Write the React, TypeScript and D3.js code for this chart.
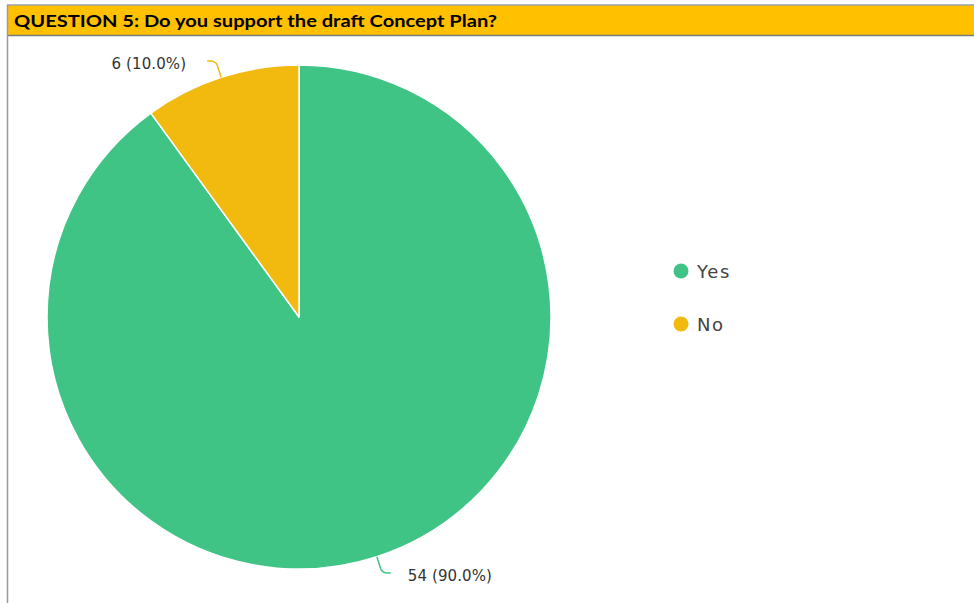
import React from "react";
import * as d3 from "d3";

const title = "QUESTION 5: Do you support the draft Concept Plan?";
const categories = ["Yes", "No"];
const values = [54, 6];
const colors = ["#40C486", "#F2B90F"];

const W = 974;
const H = 603;
const cx = 299;
const cy = 317;
const R = 252;

export default function App() {
  const total = d3.sum(values);
  const pie = d3
    .pie<number>()
    .sort(null)
    .value((d) => d)
    .startAngle(0)
    .endAngle(2 * Math.PI);
  const arcs = pie(values);
  const arcGen = d3.arc<d3.PieArcDatum<number>>().innerRadius(0).outerRadius(R);

  return (
    <div style={{ position: "absolute", left: 0, top: 0 }}>
      <svg width={W} height={H} style={{ display: "block" }}>
        <rect x={0} y={0} width={W} height={H} fill="#fff" />
        <rect x={7} y={5} width={W} height={31} fill="#FFC000" />
        <line x1={7} x2={W} y1={5} y2={5} stroke="#a0a0a0" strokeWidth={1.5} />
        <line x1={7} x2={W} y1={35.5} y2={35.5} stroke="#7a7a7a" strokeWidth={1.5} />
        <line x1={7.5} x2={7.5} y1={5} y2={H} stroke="#9a9a9a" strokeWidth={1.5} />
        <text
          x={14}
          y={27}
          fontFamily="Lato, 'Open Sans', sans-serif"
          fontWeight={700}
          fontSize={17}
          fill="#000"
          textLength={483}
          lengthAdjust="spacingAndGlyphs"
        >
          {title}
        </text>
        <g transform={`translate(${cx},${cy})`}>
          {arcs.map((a, i) => (
            <path key={i} d={arcGen(a) || ""} fill={colors[i]} stroke="#fff" strokeWidth={1.5} strokeLinejoin="round" />
          ))}
          {arcs.map((a, i) => {
            const mid = (a.startAngle + a.endAngle) / 2;
            const sx = Math.sin(mid);
            const sy = -Math.cos(mid);
            const p0 = [sx * R, sy * R];
            const p1 = [sx * (R + 16), sy * (R + 16)];
            const dir = sx >= 0 ? 1 : -1;
            const p2 = [p1[0] + dir * 9, p1[1] + (sy < 0 ? -1 : 1) * 1];
            const path = `M${p0[0]},${p0[1]} L${p1[0] - dir * 1},${p1[1] - sy * 3} Q${p1[0]},${p1[1]} ${p1[0] + dir * 4},${p2[1]} L${p2[0]},${p2[1]}`;
            const pct = ((values[i] / total) * 100).toFixed(1);
            const tx = dir > 0 ? p2[0] + 17 : p2[0] - 21;
            return (
              <g key={"l" + i}>
                <path d={path} fill="none" stroke={colors[i]} strokeWidth={1.5} />
                <text
                  x={tx}
                  y={p2[1] + 8}
                  textAnchor={dir > 0 ? "start" : "end"}
                  fontFamily="'DejaVu Sans', sans-serif"
                  fontSize={15}
                  letterSpacing={0.1}
                  fill="#333"
                >
                  {`${values[i]} (${pct}%)`}
                </text>
              </g>
            );
          })}
        </g>
        {categories.map((c, i) => (
          <g key={c} transform={`translate(681,${271 + i * 53})`}>
            <circle r={7.5} fill={colors[i]} />
            <text x={16} y={7} fontFamily="'DejaVu Sans', sans-serif" fontSize={18} letterSpacing={1.6} fill="#444">
              {c}
            </text>
          </g>
        ))}
      </svg>
    </div>
  );
}
